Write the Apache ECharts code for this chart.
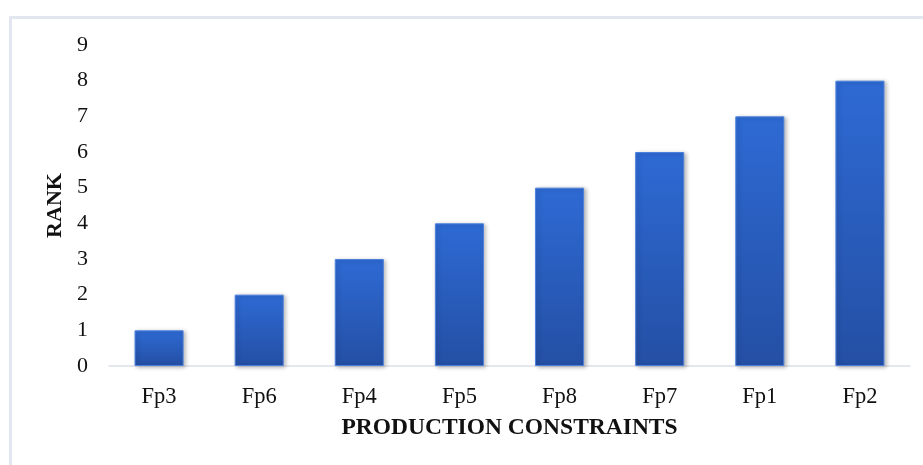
<!DOCTYPE html>
<html>
<head>
<meta charset="utf-8">
<script src="https://cdn.jsdelivr.net/npm/echarts@6/dist/echarts.min.js"></script>
<style>
  html, body { margin: 0; padding: 0; background: #ffffff; }
  #chart { width: 923px; height: 465px; }
</style>
</head>
<body>
<div id="chart"></div>
<script>
// Production constraints ranked
const categories = ['Fp3', 'Fp6', 'Fp4', 'Fp5', 'Fp8', 'Fp7', 'Fp1', 'Fp2'];
const rankValues = [1, 2, 3, 4, 5, 6, 7, 8];
const xAxisTitle = 'PRODUCTION CONSTRAINTS';
const yAxisTitle = 'RANK';

const serif = '"Liberation Serif", "Times New Roman", serif';

const chart = echarts.init(document.getElementById('chart'), null, { renderer: 'canvas' });

chart.setOption({
  backgroundColor: '#ffffff',
  animation: false,
  graphic: [
    // light frame along the top and left edges
    {
      type: 'polyline',
      silent: true,
      shape: { points: [[10.5, 470], [10.5, 17.5], [930, 17.5]] },
      style: { stroke: '#e2e6ee', lineWidth: 3, fill: null }
    }
  ],
  grid: { left: 109, right: 13, top: 45, bottom: 99 },
  xAxis: {
    type: 'category',
    data: categories,
    name: xAxisTitle,
    nameLocation: 'middle',
    nameGap: 50,
    nameTextStyle: { fontFamily: serif, fontWeight: 'bold', fontSize: 23.5, color: '#111111' },
    axisLine: { lineStyle: { color: '#dbe0e8', width: 1.5 } },
    axisTick: { show: false },
    axisLabel: { fontFamily: serif, fontSize: 22.5, color: '#111111', margin: 20 }
  },
  yAxis: {
    type: 'value',
    min: 0,
    max: 9,
    interval: 1,
    name: yAxisTitle,
    nameLocation: 'middle',
    nameGap: 38,
    nameRotate: 90,
    nameTextStyle: { fontFamily: serif, fontWeight: 'bold', fontSize: 22, color: '#111111' },
    axisLine: { show: false },
    axisTick: { show: false },
    splitLine: { show: false },
    axisLabel: { fontFamily: serif, fontSize: 22, color: '#111111', margin: 21 }
  },
  series: [{
    type: 'bar',
    data: rankValues,
    barWidth: '49%',
    itemStyle: {
      color: new echarts.graphic.LinearGradient(0, 0, 0, 1, [
        { offset: 0, color: '#2e6ad4' },
        { offset: 1, color: '#244fa4' }
      ]),
      borderColor: '#4d80dc',
      borderWidth: 1,
      shadowColor: 'rgba(0, 0, 0, 0.28)',
      shadowBlur: 4,
      shadowOffsetX: 2,
      shadowOffsetY: 1
    }
  }]
});
</script>
</body>
</html>
